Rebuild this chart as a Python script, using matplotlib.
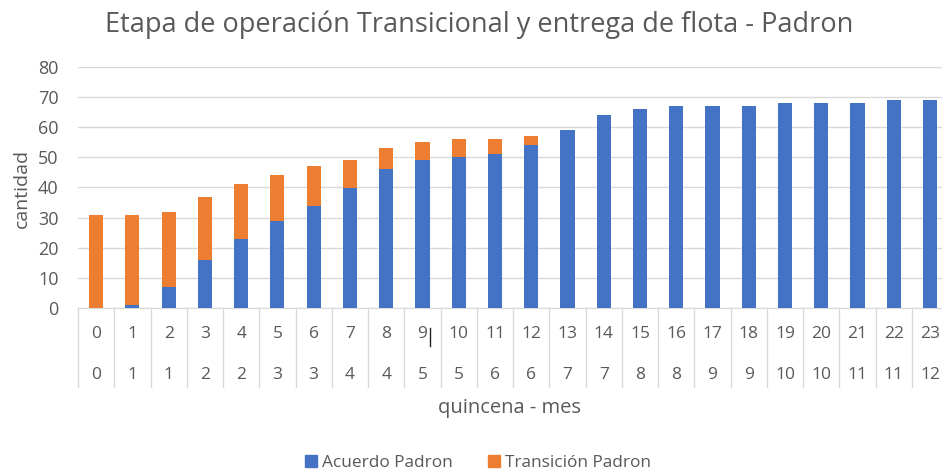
import matplotlib.pyplot as plt
import matplotlib.transforms as mtransforms
from matplotlib.patches import Patch
import numpy as np

quincena = list(range(24))
mes = [0, 1, 1, 2, 2, 3, 3, 4, 4, 5, 5, 6, 6, 7, 7, 8, 8, 9, 9, 10, 10, 11, 11, 12]
acuerdo = [0, 1, 7, 16, 23, 29, 34, 40, 46, 49, 50, 51, 54, 59, 64, 66, 67, 67, 67, 68, 68, 68, 69, 69]
transicion = [31, 30, 25, 21, 18, 15, 13, 9, 7, 6, 6, 5, 3, 0, 0, 0, 0, 0, 0, 0, 0, 0, 0, 0]

blue = '#4472C4'
orange = '#ED7D31'
txt = '#595959'
grid = '#D9D9D9'

plt.rcParams['font.family'] = ['Open Sans', 'DejaVu Sans']

W, H = 942, 476
fig = plt.figure(figsize=(W / 100, H / 100), dpi=100)
ax = fig.add_axes([78 / W, 1 - 308 / H, 1 - 78 / W, 241 / H])

x = np.arange(len(quincena))
ax.bar(x, acuerdo, width=0.39, color=blue, label='Acuerdo Padron', zorder=3)
ax.bar(x, transicion, width=0.39, bottom=acuerdo, color=orange,
       label='Transición Padron', zorder=3)

ax.set_xlim(-0.5, 23.33)
ax.set_ylim(0, 80)
ax.set_yticks(range(0, 81, 10))
ax.tick_params(axis='y', length=0, labelsize=13, colors=txt, pad=14)
ax.set_xticks([])
ax.grid(axis='y', color=grid, linewidth=1, zorder=0)
for s in ['top', 'right', 'left']:
    ax.spines[s].set_visible(False)
ax.spines['bottom'].set_color(grid)

# two-level category axis
trans = mtransforms.blended_transform_factory(ax.transData, ax.transAxes)
for b in np.arange(-0.5, 24, 1):
    ax.plot([b, b], [0, -79 / 241], transform=trans, color=grid, lw=1, clip_on=False)
for i in x:
    ax.text(i, -26.5 / 241, str(quincena[i]), transform=trans, ha='center', va='center',
            fontsize=12.5, color=txt)
    ax.text(i, -66.5 / 241, str(mes[i]), transform=trans, ha='center', va='center',
            fontsize=12.5, color=txt)

# text cursor left in the screenshot next to "9"
ax.plot([9.2, 9.2], [-20 / 241, -38 / 241], transform=trans, color='#222222',
        lw=1, clip_on=False)

fig.text(510 / W, 1 - 413 / H, 'quincena - mes', ha='center', va='baseline',
         fontsize=14.5, color=txt)
fig.text(22 / W, 1 - 188 / H, 'cantidad', ha='center', va='center',
         rotation=90, fontsize=14, color=txt)
fig.text(479 / W, 1 - 32 / H, 'Etapa de operación Transicional y entrega de flota - Padron',
         ha='center', va='baseline', fontsize=19.5, color=txt)

handles = [Patch(color=blue), Patch(color=orange)]
fig.legend(handles, ['Acuerdo Padron', 'Transición Padron'], loc='center',
           bbox_to_anchor=(478 / W, 1 - 463 / H), ncol=2, frameon=False,
           fontsize=12.4, labelcolor=txt, handlelength=0.7, handleheight=0.7,
           handletextpad=0.3, columnspacing=2.0)

fig.savefig('out.png', dpi=100)
